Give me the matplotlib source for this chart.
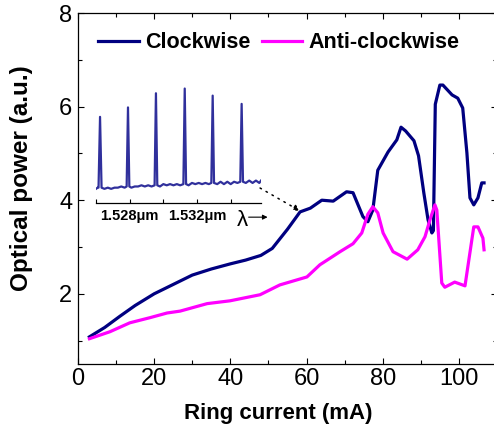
import numpy as np
import matplotlib.pyplot as plt
from matplotlib.ticker import MultipleLocator

plt.rcParams['font.family'] = ['Liberation Sans', 'DejaVu Sans']

# Clockwise / anti-clockwise optical power vs ring current
cw_current = [3, 7, 11, 15, 20, 25, 30, 35, 40, 44, 48, 51, 55, 58.3, 61, 64, 67, 70.5, 72.2,
              74.8, 76.1, 77.4, 78.7, 81.4, 83.7, 84.8, 86.0, 88.2, 89.4, 90.8, 91.9, 92.9, 93.3,
              93.8, 95.0, 95.8, 98.2, 99.7, 101.0, 102.1, 102.9, 103.9, 105.0, 106.0, 106.6]
cw_power = [1.08, 1.28, 1.52, 1.75, 2.00, 2.20, 2.40, 2.53, 2.64, 2.72, 2.82, 2.97, 3.38, 3.75,
            3.83, 4.00, 3.98, 4.18, 4.16, 3.65, 3.54, 3.79, 4.64, 5.03, 5.29, 5.56, 5.48, 5.27,
            4.95, 4.15, 3.58, 3.30, 3.35, 6.05, 6.46, 6.46, 6.25, 6.18, 5.97, 5.01, 4.05, 3.90,
            4.05, 4.37, 4.37]

acw_current = [3, 8.4, 13.6, 18.9, 23.4, 26.8, 33.9, 39.9, 47.8, 53.0, 60.1, 63.5, 65.4, 68.8,
               72.2, 74.5, 76.1, 77.4, 78.7, 80.1, 82.7, 86.4, 89.2, 91.1, 92.4, 93.7, 94.2, 95.5,
               96.3, 98.9, 101.6, 103.9, 105.0, 106.3, 106.6]
acw_power = [1.04, 1.19, 1.38, 1.49, 1.59, 1.63, 1.79, 1.85, 1.98, 2.19, 2.36, 2.62, 2.72, 2.90,
             3.07, 3.30, 3.70, 3.86, 3.73, 3.30, 2.90, 2.74, 2.94, 3.22, 3.58, 3.90, 3.79, 2.23,
             2.14, 2.25, 2.17, 3.43, 3.43, 3.19, 2.94]

# Inset spectrum (wavelength in um, normalised intensity)
spec_wl = [1.5260, 1.5261, 1.52615, 1.52624, 1.52633, 1.5265, 1.5267, 1.5269, 1.5271, 1.5273,
           1.5275, 1.5277, 1.52782, 1.52790, 1.52798, 1.5281, 1.5283, 1.5285, 1.5287, 1.5289,
           1.5291, 1.5293, 1.52948, 1.52956, 1.52964, 1.5298, 1.5300, 1.5302, 1.5304, 1.5306,
           1.5308, 1.5310, 1.53119, 1.53127, 1.53135, 1.5315, 1.5317, 1.5319, 1.5321, 1.5323,
           1.5325, 1.5327, 1.53285, 1.53293, 1.53301, 1.5332, 1.5334, 1.5336, 1.5338, 1.5340,
           1.5342, 1.5344, 1.53457, 1.53465, 1.53473, 1.5349, 1.5351, 1.5353, 1.5355, 1.5357,
           1.5358]
spec_int = [0.12, 0.13, 0.13, 0.73, 0.13, 0.12, 0.13, 0.12, 0.13, 0.13,
            0.14, 0.13, 0.14, 0.81, 0.14, 0.13, 0.14, 0.14, 0.15, 0.14,
            0.15, 0.14, 0.15, 0.93, 0.15, 0.14, 0.16, 0.15, 0.16, 0.15,
            0.16, 0.15, 0.16, 0.97, 0.16, 0.15, 0.17, 0.16, 0.17, 0.16,
            0.17, 0.16, 0.17, 0.91, 0.17, 0.16, 0.18, 0.16, 0.18, 0.16,
            0.18, 0.17, 0.18, 0.84, 0.18, 0.17, 0.19, 0.17, 0.19, 0.17,
            0.19]
spec_ticks = [1.526, 1.528, 1.530, 1.532, 1.534]
spec_ticklabels = ['', '1.528\u03bcm', '', '1.532\u03bcm', '']

W, H = 494, 434
fig = plt.figure(figsize=(W / 100, H / 100), dpi=100)
ax = fig.add_axes([78 / W, 70 / H, 419 / W, 351 / H])

ax.plot(cw_current, cw_power, color='#000080', lw=2.3, label='Clockwise')
ax.plot(acw_current, acw_power, color='#ff00ff', lw=2.3, label='Anti-clockwise')

ax.set_xlim(0, 110)
ax.set_ylim(0.5, 8)
ax.xaxis.set_major_locator(MultipleLocator(20))
ax.xaxis.set_minor_locator(MultipleLocator(10))
ax.yaxis.set_major_locator(MultipleLocator(2))
ax.yaxis.set_minor_locator(MultipleLocator(1))
ax.tick_params(which='both', direction='in', top=True, right=True, width=0.8)
ax.tick_params(which='major', length=4.5, labelsize=17)
ax.tick_params(which='minor', length=3)
ax.tick_params(axis='x', pad=3)
ax.tick_params(axis='y', pad=4)
for s in ax.spines.values():
    s.set_linewidth(0.9)

ax.set_xlabel('Ring current (mA)', fontsize=16, fontweight='bold')
ax.xaxis.set_label_coords(0.4785, -0.111)
ax.set_ylabel('Optical power (a.u.)', fontsize=17.5, fontweight='bold')
ax.yaxis.set_label_coords(-0.107, 0.53)

ax.legend(loc='center left', bbox_to_anchor=((98 - 78) / 419, 1 - (43 - 13) / 351), ncol=2,
          frameon=False, borderpad=0, borderaxespad=0, handlelength=1.9, handletextpad=0.3,
          columnspacing=0.5, prop={'weight': 'bold', 'size': 15.5})

# dotted pointer from inset to the clockwise curve
ax.annotate('', xy=(58.3, 3.77), xytext=(47.8, 4.26),
            arrowprops=dict(arrowstyle='-|>', ls=(0, (1, 3.5)), lw=1.1, color='black',
                            mutation_scale=9, shrinkA=0, shrinkB=0))

# inset spectrum
ax_in = fig.add_axes([96 / W, (H - 203) / H, 165 / W, 118 / H])
ax_in.patch.set_alpha(0)
ax_in.plot(spec_wl, spec_int, color='#30309c', lw=1.6)
ax_in.set_xlim(1.526, 1.5358)
ax_in.set_ylim(0, 1)
for side in ['left', 'right', 'top']:
    ax_in.spines[side].set_visible(False)
ax_in.spines['bottom'].set_linewidth(0.9)
ax_in.set_yticks([])
ax_in.set_xticks(spec_ticks)
ax_in.set_xticklabels(spec_ticklabels, fontsize=10.5, fontweight='bold')
ax_in.tick_params(axis='x', direction='in', length=3, width=0.8, pad=4)
ax_in.text(0.885, -0.15, '\u03bb', transform=ax_in.transAxes, fontsize=16,
           ha='center', va='center')
ax_in.annotate('', xy=(1.04, -0.12), xytext=(0.925, -0.12), xycoords='axes fraction',
               textcoords='axes fraction',
               arrowprops=dict(arrowstyle='-|>', lw=0.8, color='black', mutation_scale=7,
                               shrinkA=0, shrinkB=0), annotation_clip=False)

fig.savefig('out.png', dpi=100)
